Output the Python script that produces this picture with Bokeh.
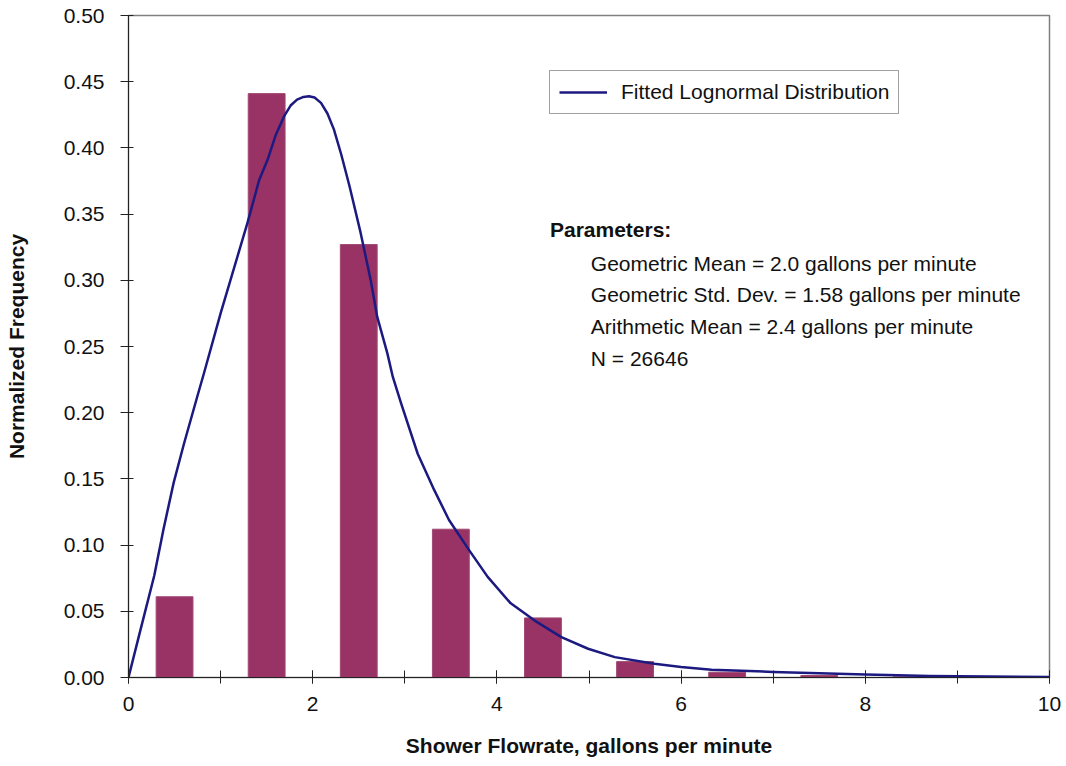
from bokeh.plotting import figure
from bokeh.models import (Label, Legend, LegendItem, SingleIntervalTicker, FixedTicker,
                          Range1d, NumeralTickFormatter)
from bokeh.embed import file_html
from bokeh.resources import INLINE

# Histogram of shower flowrates (bin centres in gpm) and normalized frequencies
bin_centers = [0.5, 1.5, 2.5, 3.5, 4.5, 5.5, 6.5, 7.5, 8.5]
frequency = [0.061, 0.441, 0.327, 0.112, 0.045, 0.012, 0.004, 0.0015, 0.0005]
bar_width = 0.4

# Fitted lognormal curve, sampled points
curve_x = [0.0, 0.13, 0.28, 0.38, 0.49, 0.60, 0.75, 0.82, 1.0, 1.29, 1.42, 1.51,
           1.60, 1.69, 1.76, 1.83, 1.90, 1.96, 2.02, 2.09, 2.16, 2.23, 2.31, 2.40,
           2.52, 2.63, 2.70, 2.81, 2.87, 2.96, 3.14, 3.32, 3.48, 3.70, 3.90, 4.15,
           4.41, 4.70, 4.99, 5.28, 5.71, 6.0, 6.33, 7.0, 8.0, 8.7, 10.0]
curve_y = [0.0, 0.036, 0.077, 0.112, 0.147, 0.176, 0.213, 0.230, 0.275, 0.343,
           0.376, 0.391, 0.410, 0.424, 0.432, 0.4365, 0.4385, 0.439, 0.438, 0.434,
           0.426, 0.414, 0.395, 0.371, 0.336, 0.300, 0.2725, 0.245, 0.227, 0.207,
           0.169, 0.1415, 0.119, 0.096, 0.076, 0.056, 0.043, 0.0305, 0.0217,
           0.0154, 0.0104, 0.008, 0.0058, 0.0042, 0.0023, 0.0012, 0.0003]

y_ticks = [0.0, 0.05, 0.10, 0.15, 0.20, 0.25, 0.30, 0.35, 0.40, 0.45, 0.50]

param_title = "Parameters:"
param_lines = [
    "Geometric Mean = 2.0 gallons per minute",
    "Geometric Std. Dev. = 1.58 gallons per minute",
    "Arithmetic Mean = 2.4 gallons per minute",
    "N = 26646",
]

FONT = "Liberation Sans"

p = figure(width=1066, height=766, output_backend="svg", toolbar_location=None,
           x_range=Range1d(0, 10), y_range=Range1d(0, 0.5),
           min_border_left=128, min_border_right=17, min_border_top=15,
           min_border_bottom=89)
p.grid.visible = False
p.outline_line_color = "#808080"
p.outline_line_width = 1.5

p.vbar(x=bin_centers, top=frequency, width=bar_width,
       fill_color="#993366", line_color="#a04a72", line_width=1)
curve = p.line(curve_x, curve_y, line_color="#1c1a80", line_width=2.5,
               line_join="round")

# x axis
xa = p.xaxis[0]
xa.ticker = SingleIntervalTicker(interval=2, num_minor_ticks=2)
xa.axis_label = "Shower Flowrate, gallons per minute"
xa.axis_label_text_font = FONT
xa.axis_label_text_font_style = "bold"
xa.axis_label_text_font_size = "21px"
xa.axis_label_text_color = "#111111"
xa.axis_label_standoff = 20
xa.major_label_text_font = FONT
xa.major_label_text_font_size = "21px"
xa.major_label_text_color = "#111111"
xa.major_label_standoff = 13
xa.major_tick_in = 7
xa.major_tick_out = 6
xa.minor_tick_in = 7
xa.minor_tick_out = 6
xa.axis_line_color = "#222222"
xa.major_tick_line_color = "#222222"
xa.minor_tick_line_color = "#222222"

# y axis
ya = p.yaxis[0]
ya.ticker = FixedTicker(ticks=y_ticks)
ya.formatter = NumeralTickFormatter(format="0.00")
ya.axis_label = "Normalized Frequency"
ya.axis_label_text_font = FONT
ya.axis_label_text_font_style = "bold"
ya.axis_label_text_font_size = "21px"
ya.axis_label_text_color = "#111111"
ya.axis_label_standoff = 33
ya.major_label_text_font = FONT
ya.major_label_text_font_size = "21px"
ya.major_label_text_color = "#111111"
ya.major_label_standoff = 16
ya.major_tick_in = 5
ya.major_tick_out = 8
ya.minor_tick_line_color = None
ya.axis_line_color = "#222222"
ya.major_tick_line_color = "#222222"

# legend
legend = Legend(items=[LegendItem(label="Fitted Lognormal Distribution", renderers=[curve])],
                location=(421, 563))
legend.label_text_font = FONT
legend.label_text_font_size = "21px"
legend.label_text_color = "#111111"
legend.padding = 9
legend.margin = 0
legend.glyph_width = 48
legend.label_standoff = 14
legend.border_line_color = "#444444"
legend.border_line_width = 1
legend.background_fill_alpha = 1.0
p.add_layout(legend, "center")

# parameter annotations
p.add_layout(Label(x=4.576, y=0.3385, text=param_title, text_font=FONT,
                   text_font_size="21px", text_font_style="bold",
                   text_baseline="middle", text_color="#111111"))
line_y = [0.3124, 0.2890, 0.2648, 0.2406]
for txt, yy in zip(param_lines, line_y):
    p.add_layout(Label(x=5.02, y=yy, text=txt, text_font=FONT,
                       text_font_size="21px", text_baseline="middle",
                       text_color="#111111"))

open("out.html", "w").write(file_html(p, INLINE))
